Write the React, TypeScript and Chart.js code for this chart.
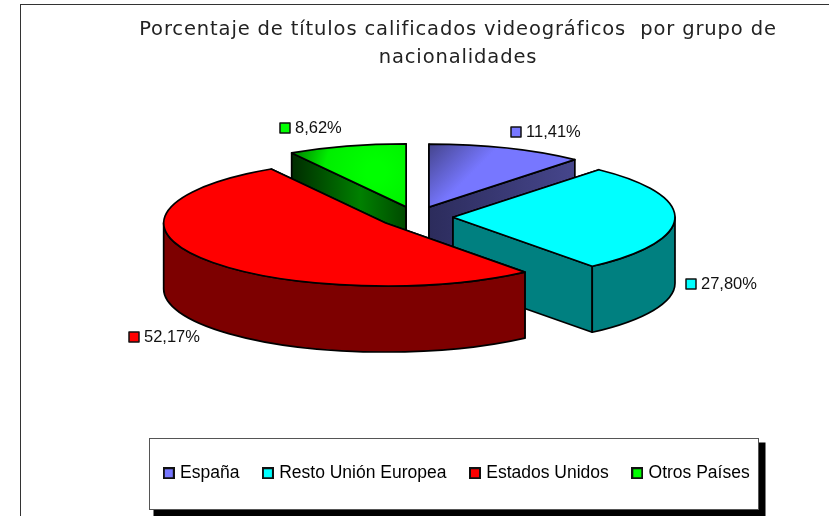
import React, { useEffect, useRef } from "react";
import { Chart, registerables } from "chart.js";

Chart.register(...registerables);

const categories = ["España", "Resto Unión Europea", "Estados Unidos", "Otros Países"];
const shares = [11.41, 27.8, 52.17, 8.62];
const shareLabels = ["11,41%", "27,80%", "52,17%", "8,62%"];
const topColors = ["#7777ff", "#00ffff", "#ff0000", "#00ff00"];
const wallColors = ["#3c3c7c", "#008080", "#7d0000", "#007000"];
const titleLines = ["Porcentaje de títulos calificados videográficos  por grupo de", "nacionalidades"];

const PIE = { x: 416, y: 217, rx: 222, ry: 63, explode: 37, depth: 66 };
const PAINT_ORDER = [3, 0, 1, 2];
const LABEL_SPOTS = [
  { x: 511, y: 132 },
  { x: 686, y: 284 },
  { x: 129, y: 337 },
  { x: 280, y: 128 },
];
const LEGEND_BOX = { x: 149.5, y: 438.5, w: 609, h: 71, shadow: 3 };
const TITLE_SPACING = "0.87px";

function swatch(color: string) {
  const c = document.createElement("canvas");
  c.width = 12;
  c.height = 12;
  const g = c.getContext("2d")!;
  g.fillStyle = color;
  g.fillRect(0, 0, 12, 12);
  g.strokeStyle = "#111";
  g.lineWidth = 2;
  g.strokeRect(1, 1, 10, 10);
  return c;
}

const pie3d = {
  id: "pie3d",
  beforeDraw(chart: any) {
    const ctx = chart.ctx;
    const block = chart.titleBlock;
    if (block && !block.__spaced) {
      const original = block.draw.bind(block);
      block.draw = (...args: any[]) => {
        ctx.save();
        ctx.letterSpacing = TITLE_SPACING;
        original(...args);
        ctx.restore();
      };
      block.__spaced = true;
    }
    ctx.save();
    ctx.strokeStyle = "#333";
    ctx.lineWidth = 1;
    ctx.strokeRect(20.5, 4.5, 1000, 1000);
    const b = LEGEND_BOX;
    ctx.fillStyle = "#000";
    ctx.fillRect(b.x + 4, b.y + 4, b.w + b.shadow, b.h + 20);
    ctx.fillStyle = "#fff";
    ctx.fillRect(b.x, b.y, b.w, b.h);
    ctx.strokeStyle = "#555";
    ctx.strokeRect(b.x, b.y, b.w, b.h);
    ctx.restore();
  },
  beforeDatasetsDraw(chart: any) {
    const ctx = chart.ctx;
    const arcs = chart.getDatasetMeta(0).data;
    ctx.save();
    ctx.lineJoin = "round";
    ctx.lineWidth = 1.7;
    ctx.strokeStyle = "#000";
    for (const i of PAINT_ORDER) {
      const a = arcs[i].startAngle;
      const b = arcs[i].endAngle;
      const mid = (a + b) / 2;
      const cx = PIE.x + PIE.explode * Math.cos(mid);
      const cy = PIE.y + (PIE.explode * Math.sin(mid) * PIE.ry) / PIE.rx;
      const px = (t: number) => cx + PIE.rx * Math.cos(t);
      const py = (t: number) => cy + PIE.ry * Math.sin(t);

      // radial cut faces
      for (const t of [a, b]) {
        ctx.beginPath();
        ctx.moveTo(cx, cy);
        ctx.lineTo(px(t), py(t));
        ctx.lineTo(px(t), py(t) + PIE.depth);
        ctx.lineTo(cx, cy + PIE.depth);
        ctx.closePath();
        let fill: any = wallColors[i];
        if (i === 3) {
          const g = ctx.createLinearGradient(px(a), 0, cx, 0);
          g.addColorStop(0, "#002c00");
          g.addColorStop(0.6, "#008000");
          g.addColorStop(1, "#004a00");
          fill = g;
        } else if (i === 0) {
          const g = ctx.createLinearGradient(cx, 0, px(b), 0);
          g.addColorStop(0, "#2c2c5c");
          g.addColorStop(1, "#46468c");
          fill = g;
        }
        ctx.fillStyle = fill;
        ctx.fill();
        ctx.stroke();
      }

      // front rim
      const from = Math.max(a, 0);
      const to = Math.min(b, Math.PI);
      if (to > from) {
        ctx.beginPath();
        ctx.ellipse(cx, cy, PIE.rx, PIE.ry, 0, from, to, false);
        ctx.ellipse(cx, cy + PIE.depth, PIE.rx, PIE.ry, 0, to, from, true);
        ctx.closePath();
        ctx.fillStyle = wallColors[i];
        ctx.fill();
        ctx.stroke();
      }

      // top face
      ctx.beginPath();
      ctx.moveTo(cx, cy);
      ctx.ellipse(cx, cy, PIE.rx, PIE.ry, 0, a, b, false);
      ctx.closePath();
      let top: any = topColors[i];
      if (i === 0) {
        const g = ctx.createLinearGradient(cx, cy - PIE.ry, cx + 36, cy - PIE.ry + 36);
        g.addColorStop(0, "#44448c");
        g.addColorStop(1, "#7777ff");
        top = g;
      } else if (i === 3) {
        const g = ctx.createRadialGradient(cx - 30, cy - 35, 10, cx - 30, cy - 35, 85);
        g.addColorStop(0, "#00ff00");
        g.addColorStop(0.55, "#00ee00");
        g.addColorStop(1, "#008000");
        top = g;
      }
      ctx.fillStyle = top;
      ctx.fill();
      ctx.stroke();
    }

    // data labels
    ctx.textBaseline = "middle";
    ctx.textAlign = "left";
    ctx.font = "16.5px 'Liberation Sans'";
    shareLabels.forEach((text, i) => {
      const s = LABEL_SPOTS[i];
      ctx.fillStyle = topColors[i];
      ctx.fillRect(s.x, s.y - 5, 10, 10);
      ctx.lineWidth = 1.5;
      ctx.strokeStyle = "#111";
      ctx.strokeRect(s.x, s.y - 5, 10, 10);
      ctx.fillStyle = "#111";
      ctx.fillText(text, s.x + 15, s.y + 0.5);
    });
    ctx.restore();
    return false;
  },
};

export default function App() {
  const ref = useRef<HTMLCanvasElement | null>(null);
  useEffect(() => {
    const chart = new Chart(ref.current!, {
      type: "pie",
      data: {
        labels: categories,
        datasets: [{ data: shares, backgroundColor: topColors, borderColor: "#000", borderWidth: 1 }],
      },
      options: {
        responsive: false,
        animation: false,
        layout: { padding: { left: 87, right: 0, top: 0, bottom: 24 } },
        plugins: {
          tooltip: { enabled: false },
          title: {
            display: true,
            text: titleLines,
            color: "#222",
            padding: { top: 16, bottom: 10 },
            font: { family: "'DejaVu Sans'", size: 19.5, weight: "normal", lineHeight: 1.43 },
          },
          legend: {
            display: true,
            position: "bottom",
            labels: {
              color: "#111",
              font: { family: "'Liberation Sans'", size: 17.5 },
              padding: 26,
              boxHeight: 12,
              usePointStyle: true,
              pointStyleWidth: 5,
              generateLabels: () =>
                categories.map((text, i) => ({
                  text,
                  fillStyle: topColors[i],
                  strokeStyle: "#000",
                  lineWidth: 0,
                  pointStyle: swatch(topColors[i]),
                  index: i,
                })),
            },
          },
        },
      },
      plugins: [pie3d],
    } as any);
    return () => chart.destroy();
  }, []);
  return (
    <canvas
      ref={ref}
      width={829}
      height={516}
      style={{ position: "fixed", left: 0, top: 0, display: "block" }}
    />
  );
}
